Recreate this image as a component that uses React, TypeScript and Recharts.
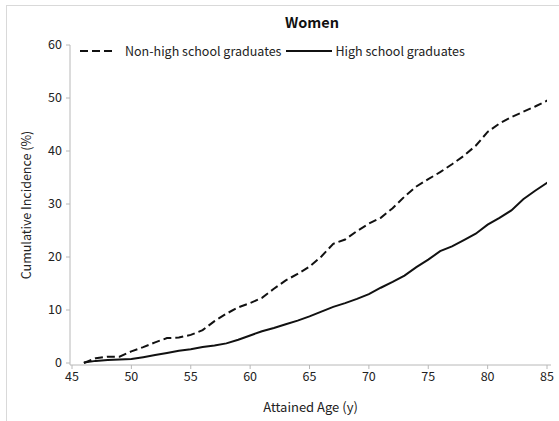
import { LineChart, Line, XAxis, YAxis } from 'recharts';

const ages = [
  46, 47, 48, 49, 50, 51, 52, 53, 54, 55, 56, 57, 58, 59, 60, 61, 62, 63, 64, 65,
  66, 67, 68, 69, 70, 71, 72, 73, 74, 75, 76, 77, 78, 79, 80, 81, 82, 83, 84, 85, 85.3,
];

// cumulative incidence (%), non-high school graduates
const nonGraduates = [
  0, 0.9, 1.2, 1.2, 2.2, 3.0, 3.9, 4.7, 4.8, 5.3, 6.2, 7.9, 9.3, 10.5, 11.3, 12.3, 14.0, 15.6, 16.8, 18.2,
  20.1, 22.5, 23.3, 24.9, 26.3, 27.4, 29.2, 31.4, 33.3, 34.7, 36.0, 37.5, 39.1, 41.0, 43.6, 45.2, 46.4, 47.4, 48.4, 49.5, 49.8,
];

// cumulative incidence (%), high school graduates
const graduates = [
  0.1, 0.4, 0.55, 0.65, 0.75, 1.1, 1.5, 1.9, 2.3, 2.6, 3.0, 3.3, 3.7, 4.4, 5.2, 6.0, 6.6, 7.3, 8.0, 8.8,
  9.7, 10.6, 11.3, 12.1, 13.0, 14.2, 15.3, 16.5, 18.1, 19.5, 21.1, 22.0, 23.2, 24.4, 26.1, 27.4, 28.8, 30.9, 32.5, 34.0, 34.3,
];

const xTicks = [45, 50, 55, 60, 65, 70, 75, 80, 85];
const yTicks = [0, 10, 20, 30, 40, 50, 60];

const seriesNames = ['Non-high school graduates', 'High school graduates'];

const FONT = '"Noto Sans CJK JP", "Noto Sans", sans-serif';
const AXIS = '#b8b8b8';
const TEXT = '#222';

const data = ages.map((age, i) => ({
  age,
  nonGrad: nonGraduates[i],
  grad: graduates[i],
}));

const legendItems = [
  { name: seriesNames[0], dash: '8 4', len: 36, before: 0, after: 9 },
  { name: seriesNames[1], dash: undefined, len: 46, before: 5, after: 3 },
];

export default function App() {
  return (
    <div style={{ position: 'relative', width: 559, height: 421, overflow: 'hidden', background: '#fff', fontFamily: FONT }}>
      <style>{'body{margin:0}'}</style>
      <div style={{ position: 'absolute', left: 6, top: 5, width: 600, height: 500, border: '1px solid #d9d9d9' }} />
      <div style={{ position: 'absolute', left: 0, width: 624, top: 11, textAlign: 'center', fontSize: 14.5, fontWeight: 700, color: '#111' }}>
        Women
      </div>
      <div style={{ position: 'absolute', left: 80, top: 41, display: 'flex', alignItems: 'center', fontSize: 12.5, color: TEXT }}>
        {legendItems.map((it) => (
          <div key={it.name} style={{ display: 'flex', alignItems: 'center', marginLeft: it.before }}>
            <svg width={it.len} height={16} style={{ marginRight: it.after }}>
              <line x1={0} y1={8} x2={it.len} y2={8} stroke="#111" strokeWidth={2} strokeDasharray={it.dash} />
            </svg>
            <span>{it.name}</span>
          </div>
        ))}
      </div>
      <div style={{ position: 'absolute', left: 0, top: 0 }}>
        <LineChart width={559} height={421} data={data} margin={{ top: 45, right: 8, bottom: 0, left: 0 }}>
          <XAxis
            type="number"
            dataKey="age"
            domain={[45, 85]}
            allowDataOverflow
            ticks={xTicks}
            padding={{ left: 2, right: 4 }}
            height={56}
            stroke={AXIS}
            tickSize={4}
            tickMargin={3}
            tick={{ fill: TEXT, fontSize: 12.5, fontFamily: FONT }}
            label={{ value: 'Attained Age (y)', position: 'insideBottom', offset: 9, fill: TEXT, fontSize: 13, fontFamily: FONT }}
          />
          <YAxis
            type="number"
            domain={[0, 60]}
            ticks={yTicks}
            padding={{ top: 0, bottom: 2 }}
            width={70}
            stroke={AXIS}
            tickSize={4}
            tickMargin={4}
            tick={{ fill: TEXT, fontSize: 12.5, fontFamily: FONT }}
            label={{
              value: 'Cumulative Incidence (%)',
              angle: -90,
              position: 'insideLeft',
              offset: 27,
              fill: TEXT,
              fontSize: 12.5,
              fontFamily: FONT,
              style: { textAnchor: 'middle' },
            }}
          />
          <Line
            type="linear"
            dataKey="nonGrad"
            name={seriesNames[0]}
            stroke="#111"
            strokeWidth={2}
            strokeDasharray="8 4"
            dot={false}
            isAnimationActive={false}
          />
          <Line
            type="linear"
            dataKey="grad"
            name={seriesNames[1]}
            stroke="#111"
            strokeWidth={2}
            dot={false}
            isAnimationActive={false}
          />
        </LineChart>
      </div>
    </div>
  );
}
